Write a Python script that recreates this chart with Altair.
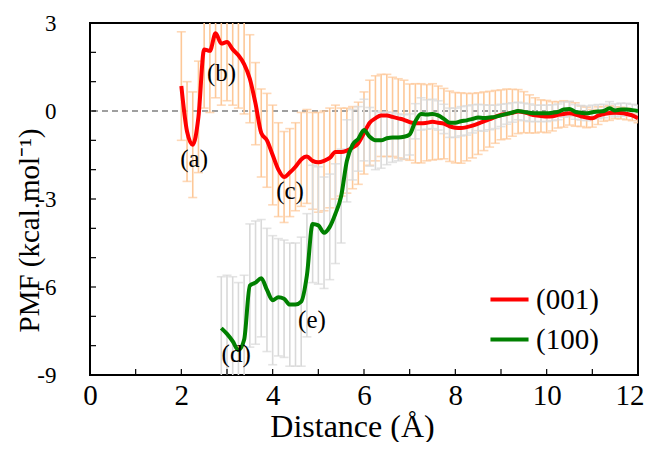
import altair as alt
import pandas as pd

# ---------------- data ----------------
step = 0.125
red_x0 = 2.0
red_y = [0.85, -0.7, -1.15, -0.2, 2.1, 2.05, 2.65, 2.3, 2.35, 2.1,
         1.9, 1.6, 1.1, 0.25, -0.75, -1.0, -1.5, -2.0, -2.25, -2.1,
         -1.9, -1.65, -1.55, -1.7, -1.75, -1.7, -1.6, -1.4, -1.4, -1.35,
         -1.25, -1.1, -0.75, -0.4, -0.25, -0.15, -0.15, -0.2, -0.25, -0.3,
         -0.38, -0.42, -0.42, -0.4, -0.37, -0.4, -0.43, -0.52, -0.57, -0.58,
         -0.55, -0.5, -0.43, -0.35, -0.28, -0.2, -0.13, -0.1, -0.06, -0.02,
         -0.04, -0.1, -0.15, -0.17, -0.19, -0.18, -0.13, -0.1, -0.08, -0.12,
         -0.18, -0.22, -0.25, -0.16, -0.1, -0.07, -0.06, -0.07, -0.1, -0.15,
         -0.25]
red_err = [1.85, 1.7, 1.8, 1.9, 2.0, 2.1, 2.2, 2.1, 2.0, 1.9,
           1.8, 1.7, 1.5, 1.4, 1.5, 1.6, 1.7, 1.6, 1.55, 1.5,
           1.5, 1.6, 1.6, 1.65, 1.7, 1.7, 1.7, 1.6, 1.5, 1.45,
           1.4, 1.4, 1.4, 1.45, 1.45, 1.4, 1.4, 1.35, 1.35, 1.35,
           1.3, 1.35, 1.35, 1.3, 1.3, 1.25, 1.2, 1.2, 1.2, 1.2,
           1.15, 1.1, 1.05, 1.0, 0.95, 0.9, 0.85, 0.85, 0.8, 0.75,
           0.7, 0.65, 0.6, 0.55, 0.55, 0.5, 0.45, 0.45, 0.4, 0.4,
           0.35, 0.35, 0.3, 0.3, 0.25, 0.25, 0.2, 0.2, 0.2, 0.18,
           0.15]

green_x0 = 2.875
green_y = [-7.4, -7.6, -7.85, -8.15, -7.8, -5.95, -5.85, -5.7, -6.1, -6.45,
           -6.35, -6.4, -6.6, -6.6, -6.5, -5.6, -3.85, -3.9, -4.15, -3.95,
           -3.5, -2.9, -1.7, -1.15, -0.95, -0.65, -0.88, -1.0, -1.0, -0.93,
           -0.9, -0.9, -0.88, -0.8, -0.35, -0.1, -0.12, -0.1, -0.15, -0.27,
           -0.4, -0.4, -0.35, -0.32, -0.27, -0.22, -0.24, -0.22, -0.2, -0.15,
           -0.1, -0.05, 0.0, -0.03, -0.06, -0.08, -0.08, -0.08, -0.06, -0.03,
           0.05, 0.07, -0.03, -0.06, -0.08, -0.04, -0.02, 0.0, 0.09, 0.02,
           0.05, 0.05, 0.03, 0.0]
green_err = [1.75, 2.0, 2.2, 2.3, 2.2, 2.1, 2.1, 2.0, 2.1, 2.2,
             2.0, 2.0, 2.1, 2.1, 2.2, 2.1, 2.0, 2.0, 1.9, 1.8,
             1.7, 1.6, 1.4, 1.2, 1.1, 1.05, 1.0, 1.0, 0.95, 0.9,
             0.85, 0.8, 0.75, 0.7, 0.6, 0.55, 0.5, 0.5, 0.5, 0.5,
             0.5, 0.5, 0.5, 0.5, 0.48, 0.45, 0.45, 0.42, 0.4, 0.38,
             0.35, 0.33, 0.3, 0.3, 0.3, 0.28, 0.28, 0.28, 0.27, 0.27,
             0.26, 0.26, 0.25, 0.25, 0.25, 0.24, 0.24, 0.23, 0.23, 0.22,
             0.22, 0.21, 0.2, 0.2]

series_names = ["(001)", "(100)"]
line_colors = ["#ff0000", "#008000"]
bar_colors = ["#fdc898", "#d9d9d9"]

label_text = ["(a)", "(b)", "(c)", "(d)", "(e)"]
label_x = [2.28, 2.88, 4.38, 3.2, 4.86]
label_y = [-1.65, 1.3, -2.72, -8.3, -7.12]

x_ticks = list(range(0, 13))
y_ticks = list(range(-9, 4))
x_labels = [0, 2, 4, 6, 8, 10, 12]
y_labels = [-9, -6, -3, 0, 3]

# ---------------- tables ----------------
rows = []
for name, x0, ys, es in [(series_names[0], red_x0, red_y, red_err),
                         (series_names[1], green_x0, green_y, green_err)]:
    for i, (v, e) in enumerate(zip(ys, es)):
        rows.append({"series": name, "x": x0 + i * step, "y": v,
                     "lo": v - e, "hi": v + e})
df = pd.DataFrame(rows)
df_lab = pd.DataFrame({"t": label_text, "x": label_x, "y": label_y})

W, H = 548, 352
FONT = "Liberation Serif"
xs = alt.Scale(domain=[0, 12], nice=False, zero=False)
ys_ = alt.Scale(domain=[-9, 3], nice=False, zero=False)

XAX = alt.Axis(values=x_labels, title="Distance (Å)", ticks=False, domain=False,
               grid=False, labelPadding=6, titlePadding=1, labelFlush=False,
               labelFontSize=29, titleFontSize=32, titleX=262,
               labelAlign={"condition": {"test": "datum.value == 12", "value": "right"},
                           "value": "center"},
               labelOffset={"condition": {"test": "datum.value == 12", "value": 6},
                            "value": 0})
YAX = alt.Axis(values=y_labels, title="PMF (kcal.mol⁻¹)", ticks=False, domain=False,
               grid=False, labelPadding=34, labelExpr="toString(datum.value)",
               labelFlush=False, labelFontSize=23, titleFontSize=29,
               titleX=-46, titleY=207)


def X(f):
    return alt.X(f, scale=xs, axis=XAX)


def Y(f):
    return alt.Y(f, scale=ys_, axis=YAX)


base = alt.Chart(df)

zero_line = alt.Chart(pd.DataFrame({"y": [0]})).mark_rule(
    color="#808080", strokeDash=[6, 4], strokeWidth=1.5).encode(y=Y("y:Q"))


def bars(name, color):
    b = base.transform_filter(alt.datum.series == name)
    stem = b.mark_rule(color=color, strokeWidth=1.6, clip=True).encode(
        x=X("x:Q"), y=Y("lo:Q"), y2="hi:Q")
    cap_lo = b.mark_tick(color=color, orient="horizontal", size=9, thickness=1.6, clip=True).encode(
        x=X("x:Q"), y=Y("lo:Q"))
    cap_hi = b.mark_tick(color=color, orient="horizontal", size=9, thickness=1.6, clip=True).encode(
        x=X("x:Q"), y=Y("hi:Q"))
    return [stem, cap_lo, cap_hi]


lines = base.mark_line(interpolate="monotone", strokeWidth=4, clip=True).encode(
    x=X("x:Q"), y=Y("y:Q"),
    color=alt.Color("series:N",
                    scale=alt.Scale(domain=series_names, range=line_colors),
                    legend=alt.Legend(orient="none", legendX=398, legendY=255,
                                      title=None, symbolType="stroke",
                                      symbolStrokeWidth=4, symbolSize=1450,
                                      labelFont=FONT, labelFontSize=29,
                                      labelColor="black", labelOffset=5,
                                      rowPadding=3, labelLimit=200)),
)

labels = alt.Chart(df_lab).mark_text(font=FONT, fontSize=25, color="black").encode(
    x=X("x:Q"), y=Y("y:Q"), text="t:N")

xtick = alt.Chart(pd.DataFrame({"v": x_ticks})).mark_rule(color="black", strokeWidth=1.2).encode(
    x=X("v:Q"), y=alt.value(H - 6), y2=alt.value(H))
ytick = alt.Chart(pd.DataFrame({"v": y_ticks})).mark_rule(color="black", strokeWidth=1.2).encode(
    y=Y("v:Q"), x=alt.value(0), x2=alt.value(6))

layers = [zero_line] + bars(series_names[0], bar_colors[0]) + \
    bars(series_names[1], bar_colors[1]) + [lines, labels, xtick, ytick]

chart = alt.layer(*layers).properties(
    width=W, height=H,
    background="white",
    autosize=alt.AutoSizeParams(type="none"),
    padding={"left": 82, "top": 15, "right": 6, "bottom": 67},
).configure_view(stroke="black", strokeWidth=2).configure_axis(
    labelFont=FONT, labelColor="black",
    titleFont=FONT, titleFontWeight="normal", titleColor="black",
)

chart.save("out.html", embed_options={"renderer": "svg", "actions": False})
